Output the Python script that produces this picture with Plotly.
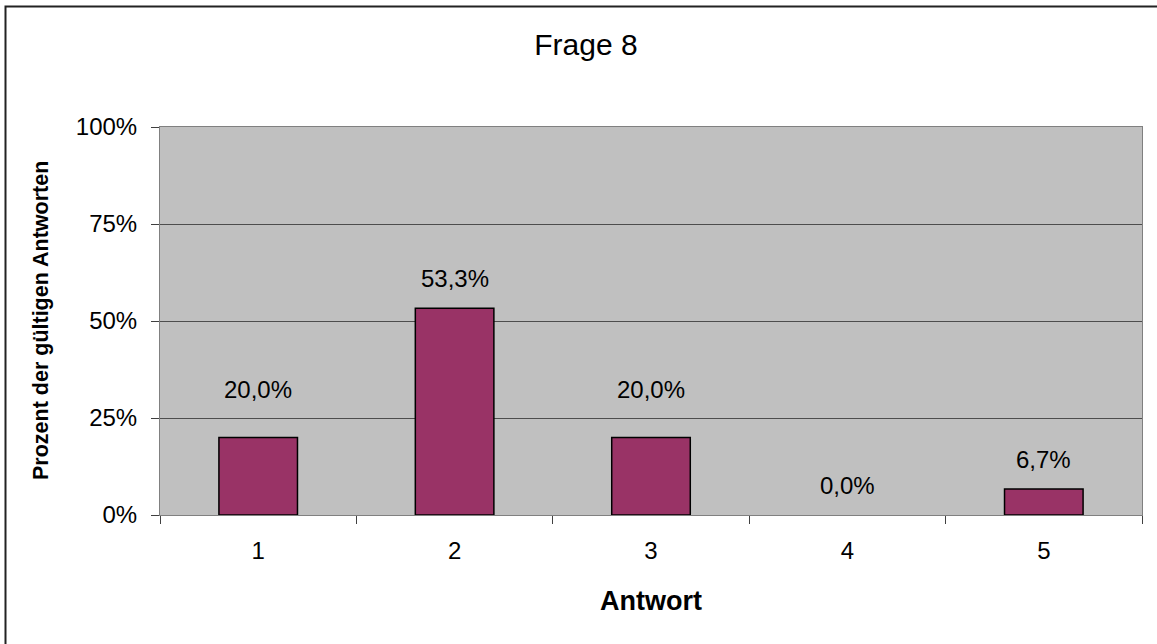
import plotly.graph_objects as go

# Survey results for question 8
categories = ["1", "2", "3", "4", "5"]
percent_valid = [20.0, 53.3, 20.0, 0.0, 6.7]
y_tick_values = [0, 25, 50, 75, 100]
y_tick_labels = ["0%", "25%", "50%", "75%", "100%"]

# Vertical lift (px) of each value label above its bar top
label_lift = [48, 30, 48, 30, 30]

W, H = 1157, 644
ML, MR, MT, MB = 160, 15, 127, 129
PW, PH = W - ML - MR, H - MT - MB

FONT = "Liberation Sans, Arial, sans-serif"

# Empty bars get no outline so that nothing is drawn for them
outline_widths = [1.5 if v > 0 else 0 for v in percent_valid]

fig = go.Figure(
    go.Bar(
        x=categories,
        y=percent_valid,
        width=0.4,
        marker=dict(color="#993366", line=dict(color="#000000", width=outline_widths)),
        hoverinfo="skip",
    )
)

# Value labels in German number format (category axis addressed by index)
for idx, (val, lift) in enumerate(zip(percent_valid, label_lift)):
    fig.add_annotation(
        x=idx, y=val, xref="x", yref="y",
        text=f"{val:.1f}%".replace(".", ","),
        showarrow=False, yanchor="middle", yshift=lift,
        font=dict(family=FONT, size=24, color="#000000"),
    )

# Axis titles
fig.add_annotation(
    xref="paper", yref="paper",
    x=(41 - ML) / PW, y=0.5,
    text="<b>Prozent der gültigen Antworten</b>", textangle=-90,
    showarrow=False, xanchor="center", yanchor="middle",
    font=dict(family=FONT, size=21.5, color="#000000"),
)
fig.add_annotation(
    xref="paper", yref="paper",
    x=0.5, y=(H - MB - 601) / PH,
    text="<b>Antwort</b>",
    showarrow=False, xanchor="center", yanchor="middle",
    font=dict(family=FONT, size=27, color="#000000"),
)

# Chart-area frame
fig.add_shape(
    type="rect", xref="paper", yref="paper",
    x0=(5.5 - ML) / PW, x1=(W + 10 - ML) / PW,
    y0=(H - MB - (H + 10)) / PH, y1=(H - MB - 6.5) / PH,
    line=dict(color="#222222", width=2), fillcolor="rgba(0,0,0,0)", layer="below",
)

fig.update_layout(
    width=W, height=H,
    margin=dict(l=ML, r=MR, t=MT, b=MB),
    paper_bgcolor="#FFFFFF",
    plot_bgcolor="#C0C0C0",
    showlegend=False,
    title=dict(
        text="Frage 8", xref="container", yref="container",
        x=586 / W, y=1 - 44 / H, xanchor="center", yanchor="middle",
        font=dict(family=FONT, size=30, color="#000000"),
    ),
    font=dict(family=FONT, color="#000000"),
)

fig.update_xaxes(
    type="category",
    range=[-0.5, len(categories) - 0.5],
    tickson="boundaries",
    ticks="outside", ticklen=8, tickwidth=1, tickcolor="#404040",
    showline=True, linecolor="#808080", linewidth=1, mirror=True,
    showgrid=False,
    tickfont=dict(family=FONT, size=24, color="#000000"),
    ticklabelstandoff=14,
)
fig.update_yaxes(
    range=[0, 100],
    tickvals=y_tick_values, ticktext=y_tick_labels,
    ticks="outside", ticklen=8, tickwidth=1, tickcolor="#404040",
    showline=True, linecolor="#808080", linewidth=1, mirror=True,
    showgrid=True, gridcolor="#4d4d4d", gridwidth=1,
    zeroline=False,
    tickfont=dict(family=FONT, size=24, color="#000000"),
    ticklabelstandoff=9,
)

fig.write_html("out.html")
